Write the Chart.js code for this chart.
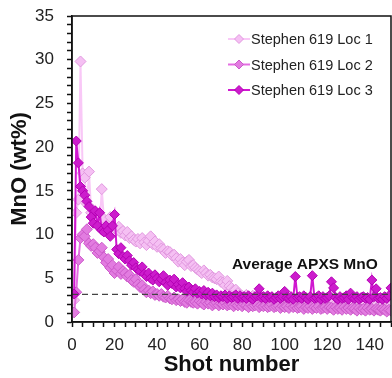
<!DOCTYPE html>
<html>
<head>
<meta charset="utf-8">
<script src="https://cdn.jsdelivr.net/npm/chart.js@4.4.1/dist/chart.umd.min.js"></script>
<style>
  html, body { margin: 0; padding: 0; background: #fff; }
  #wrap { width: 392px; height: 378px; }
</style>
</head>
<body>
<div id="wrap"><canvas id="mnoChart" width="392" height="378"></canvas></div>
<script>
'use strict';

// Nomor tembakan (shot) 1..150
const shots = Array.from({ length: 150 }, (_, i) => i + 1);

const seriesNames = ['Stephen 619 Loc 1', 'Stephen 619 Loc 2', 'Stephen 619 Loc 3'];

const loc1 = [
  2.5, 12.5, 14.0, 29.8, 17.0, 16.5, 13.5, 17.2, 12.5, 12.8,
  11.5, 12.0, 10.8, 15.2, 11.8, 10.5, 11.2, 12.0, 10.5, 10.8,
  10.5, 10.9, 10.2, 10.4, 9.9, 10.3, 9.6, 9.8, 9.4, 9.2,
  9.5, 9.0, 9.6, 9.1, 8.8, 9.3, 9.8, 8.9, 9.2, 8.6,
  8.9, 8.4, 8.3, 7.9, 8.1, 8.0, 7.6, 7.7, 7.3, 6.9,
  7.2, 6.8, 6.5, 6.9, 7.1, 6.4, 6.5, 6.2, 6.0, 5.8,
  5.6, 5.9, 5.6, 5.3, 5.4, 5.1, 5.0, 4.9, 5.2, 4.6,
  4.5, 4.2, 4.7, 4.1, 3.9, 3.6, 3.7, 3.3, 3.1, 3.0,
  2.9, 3.1, 2.8, 2.7, 3.0, 2.6, 2.8, 2.7, 2.5, 2.9,
  2.6, 2.7, 2.4, 2.8, 2.5, 2.6, 2.3, 2.7, 2.5, 2.4,
  2.6, 2.3, 2.5, 2.2, 2.6, 2.4, 2.3, 2.5, 2.2, 2.4,
  2.3, 2.5, 2.1, 2.4, 2.2, 2.3, 2.0, 2.4, 2.2, 2.1,
  2.3, 2.0, 2.2, 2.1, 2.3, 1.9, 2.2, 2.0, 2.1, 1.9,
  2.2, 2.0, 1.8, 2.1, 1.9, 2.0, 1.8, 2.1, 1.9, 1.8,
  2.0, 1.8, 1.9, 1.7, 2.0, 1.8, 1.9, 1.7, 1.8, 1.9
];

const loc2 = [
  1.1, 3.4, 7.1, 9.6, 10.0, 9.8, 10.6, 9.0, 8.7, 8.9,
  8.5, 7.9, 8.1, 8.5, 7.4, 6.8, 7.2, 6.2, 6.5, 5.6,
  5.9, 6.3, 5.5, 5.8, 5.6, 5.2, 5.4, 4.8, 4.6, 4.9,
  4.3, 4.0, 4.2, 3.7, 3.4, 3.6, 3.3, 3.5, 3.1, 3.2,
  3.0, 3.2, 2.9, 2.8, 3.0, 2.7, 2.6, 2.8, 2.5, 2.6,
  2.4, 2.6, 2.3, 2.2, 2.5, 2.3, 2.2, 2.3, 2.1, 2.4,
  2.2, 2.0, 2.3, 2.1, 2.2, 1.9, 2.1, 2.2, 1.9, 2.1,
  2.0, 2.2, 1.9, 2.0, 2.1, 1.8, 2.0, 1.9, 2.1, 1.8,
  2.0, 1.9, 1.7, 2.0, 1.8, 1.9, 2.0, 1.7, 1.9, 1.8,
  1.9, 1.7, 1.8, 2.0, 1.7, 1.8, 1.9, 1.6, 1.8, 1.7,
  1.8, 1.6, 1.9, 1.7, 1.8, 1.6, 1.7, 1.8, 1.5, 1.7,
  1.6, 1.8, 1.5, 1.7, 1.6, 1.8, 1.5, 1.6, 1.7, 1.5,
  1.7, 1.6, 1.4, 1.7, 1.5, 1.6, 1.4, 1.7, 1.5, 1.6,
  1.4, 1.6, 1.5, 1.3, 1.6, 1.4, 1.5, 1.3, 1.6, 1.4,
  1.5, 1.3, 1.5, 1.4, 1.3, 1.5, 1.4, 1.2, 1.4, 1.3
];

const loc3 = [
  3.2, 20.7, 18.2, 15.5, 15.0, 14.5, 13.8, 13.2, 12.0, 11.3,
  12.7, 11.0, 12.5, 10.5, 10.3, 11.0, 10.5, 9.8, 11.0, 12.3,
  8.3, 7.8, 8.5, 7.5, 7.2, 7.6, 7.0, 6.5, 6.8, 6.2,
  6.0, 5.8, 6.3, 5.5, 5.2, 5.6, 5.0, 4.8, 5.4, 5.0,
  4.6, 4.9, 5.3, 4.5, 4.2, 4.8, 4.4, 4.9, 4.0, 4.3,
  3.9, 4.5, 3.8, 3.5, 4.0, 3.6, 3.4, 3.8, 3.3, 3.5,
  3.2, 3.6, 3.1, 3.4, 3.0, 3.3, 2.9, 3.1, 2.8, 3.0,
  2.9, 3.1, 2.7, 3.0, 2.8, 2.9, 3.1, 2.7, 3.0, 2.8,
  2.9, 2.7, 3.0, 2.8, 2.6, 2.9, 3.0, 3.8, 2.8, 2.9,
  2.7, 3.0, 2.8, 2.9, 2.6, 2.8, 3.0, 2.7, 2.9, 3.5,
  2.8, 2.7, 2.9, 2.6, 5.2, 2.8, 2.9, 2.7, 3.0, 2.8,
  2.6, 2.9, 5.3, 2.7, 2.8, 3.0, 2.6, 2.9, 2.7, 2.8,
  3.0, 4.6, 3.9, 2.8, 2.6, 2.9, 2.7, 2.8, 3.0, 2.6,
  3.3, 2.8, 2.7, 2.9, 2.6, 2.8, 2.9, 2.7, 2.8, 2.6,
  4.8, 2.9, 3.8, 2.7, 2.8, 2.6, 2.9, 2.7, 3.0, 3.9
];

// Rata-rata APXS MnO (garis putus-putus)
const apxsMnO = 3.15;
const apxsLabel = 'Average APXS MnO';

const xTicks = [0, 20, 40, 60, 80, 100, 120, 140];
const yTicks = [0, 5, 10, 15, 20, 25, 30, 35];

// Warna
const loc1Line = 'rgba(248, 190, 246, 0.85)',
  loc1Fill = '#f5c0f3',
  loc1Border = '#e198df',
  loc2Line = '#e46ee2',
  loc2Fill = '#e27ce0',
  loc2Border = '#cc5aca',
  loc3Line = '#d018d0',
  loc3Fill = '#cc1ccc',
  loc3Border = '#b400b4',
  axisColor = '#111',
  labelColor = '#222';

const fontFamily = '"Liberation Sans", Arial, sans-serif';

function toPoints(values) {
  return values.map((v, i) => ({ x: shots[i], y: v }));
}

const styles = [
  { line: loc1Line, fill: loc1Fill, border: loc1Border, radius: 5.5 },
  { line: loc2Line, fill: loc2Fill, border: loc2Border, radius: 5.5 },
  { line: loc3Line, fill: loc3Fill, border: loc3Border, radius: 5 }
];

// Kotak plot, legenda dan teks anotasi
const framePlugin = {
  id: 'frame',
  afterDraw(chart) {
    const { ctx, chartArea: a, scales } = chart;
    ctx.save();
    ctx.strokeStyle = axisColor;
    ctx.lineWidth = 1.5;
    ctx.strokeRect(a.left, a.top, a.right - a.left, a.bottom - a.top);

    // anotasi
    ctx.font = 'bold 15.5px ' + fontFamily;
    ctx.fillStyle = '#111';
    ctx.textAlign = 'center';
    ctx.textBaseline = 'middle';
    ctx.fillText(apxsLabel, scales.x.getPixelForValue(109.5), scales.y.getPixelForValue(6.6));

    // legenda
    ctx.font = '14.5px ' + fontFamily;
    ctx.textAlign = 'left';
    seriesNames.forEach((name, i) => {
      const y = 39 + i * 25.5;
      const st = styles[i];
      ctx.strokeStyle = st.line;
      ctx.lineWidth = 2;
      ctx.beginPath();
      ctx.moveTo(228, y);
      ctx.lineTo(250, y);
      ctx.stroke();
      ctx.fillStyle = st.fill;
      ctx.strokeStyle = st.border;
      ctx.lineWidth = 1;
      Chart.helpers.drawPoint(ctx, { pointStyle: 'rectRot', radius: 4.5, borderWidth: 1 }, 239, y);
      ctx.fillStyle = labelColor;
      ctx.fillText(name, 251, y + 1);
    });
    ctx.restore();
  }
};

const datasets = [loc1, loc2, loc3].map((values, i) => ({
  label: seriesNames[i],
  data: toPoints(values),
  showLine: true,
  borderColor: styles[i].line,
  borderWidth: 2,
  pointStyle: 'rectRot',
  pointRadius: styles[i].radius,
  pointBackgroundColor: styles[i].fill,
  pointBorderColor: styles[i].border,
  pointBorderWidth: 1,
  order: 3 - i
}));

datasets.push({
  label: apxsLabel,
  data: [{ x: 0, y: apxsMnO }, { x: 150, y: apxsMnO }],
  showLine: true,
  borderColor: '#444',
  borderWidth: 1.3,
  borderDash: [6, 4],
  pointRadius: 0,
  order: 0
});

new Chart(document.getElementById('mnoChart'), {
  type: 'scatter',
  data: { datasets: datasets },
  options: {
    responsive: false,
    devicePixelRatio: 1,
    animation: false,
    layout: { autoPadding: false, padding: { top: 16, right: 1, left: 0, bottom: 0 } },
    plugins: {
      legend: { display: false },
      tooltip: { enabled: false }
    },
    scales: {
      x: {
        type: 'linear',
        min: 0,
        max: 150,
        afterFit(scale) {
          scale.height = 56;
          scale.paddingLeft = 0;
          scale.paddingRight = 0;
        },
        grid: {
          drawOnChartArea: false,
          drawTicks: true,
          tickLength: 5,
          tickWidth: 1.5,
          tickColor: axisColor
        },
        border: { display: true, color: axisColor, width: 1.5 },
        ticks: {
          stepSize: 5,
          autoSkip: false,
          maxRotation: 0,
          padding: 8,
          color: labelColor,
          font: { family: fontFamily, size: 17 },
          callback: v => (xTicks.includes(v) ? String(v) : '')
        },
        title: {
          display: true,
          text: 'Shot number',
          color: '#111',
          font: { family: fontFamily, size: 22, weight: 'bold' },
          padding: { top: 0, bottom: 0 }
        }
      },
      y: {
        min: 0,
        max: 35,
        afterFit(scale) {
          scale.width = 72;
          scale.paddingTop = 0;
          scale.paddingBottom = 0;
        },
        grid: {
          drawOnChartArea: false,
          drawTicks: true,
          tickLength: 5,
          tickWidth: 1.5,
          tickColor: axisColor
        },
        border: { display: true, color: axisColor, width: 1.5 },
        ticks: {
          stepSize: 1,
          autoSkip: false,
          padding: 13,
          color: labelColor,
          font: { family: fontFamily, size: 17 },
          callback: v => (yTicks.includes(v) ? String(v) : '')
        },
        title: {
          display: true,
          text: 'MnO (wt%)',
          color: '#111',
          font: { family: fontFamily, size: 22, weight: 'bold' },
          padding: { top: 7, bottom: 0 }
        }
      }
    }
  },
  plugins: [framePlugin]
});
</script>
</body>
</html>
